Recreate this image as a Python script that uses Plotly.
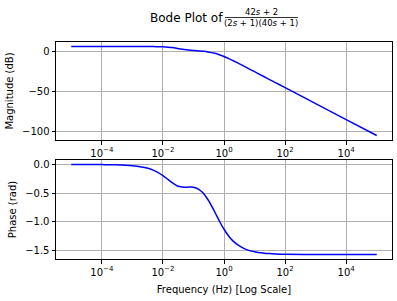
import plotly.graph_objects as go
from plotly.subplots import make_subplots

freq = [1e-5, 1e-4, 3e-4, 1e-3, 2e-3, 3e-3, 5e-3, 7e-3, 1e-2, 1.5e-2, 2e-2, 3e-2, 5e-2, 7e-2,
        0.1, 0.15, 0.2, 0.3, 0.5, 0.7, 1, 1.5, 2, 3, 5, 10, 20, 30, 50, 100, 1e3, 1e4, 1e5]
mag_db = [6.021, 6.021, 6.020, 6.015, 6.000, 5.963, 5.862, 5.715, 5.561, 5.092, 4.571, 3.582,
          2.215, 1.470, 0.879, 0.348, -0.049, -0.834, -2.557, -4.275, -6.559, -9.574, -11.879,
          -15.257, -19.619, -25.607, -31.620, -35.14, -39.576, -45.597, -65.597, -85.597, -105.597]
phase_rad = [-0.0002, -0.0021, -0.0063, -0.021, -0.0419, -0.0625, -0.1028, -0.141, -0.1935,
             -0.265, -0.317, -0.374, -0.397, -0.394, -0.397, -0.433, -0.490, -0.615, -0.830,
             -0.983, -1.130, -1.264, -1.337, -1.413, -1.476, -1.523, -1.5469, -1.5549, -1.5613,
             -1.5660, -1.5703, -1.57075, -1.5708]

xtick_vals = [1e-4, 1e-2, 1, 1e2, 1e4]
xtick_text = ["10<sup>\u22124</sup>", "10<sup>\u22122</sup>", "10<sup>0</sup>",
              "10<sup>2</sup>", "10<sup>4</sup>"]
mag_ticks = [0, -50, -100]
phase_ticks = [0.0, -0.5, -1.0, -1.5]

W, H = 397, 301
L, R, T, B = 56, 392, 42, 259
def px(x):
    return (x - L) / (R - L)
def py(y):
    return (B - y) / (B - T)

fig = make_subplots(rows=2, cols=1)
fig.add_trace(go.Scatter(x=freq, y=mag_db, mode="lines", line=dict(color="#0000ff", width=1.5, shape="spline"),
                         showlegend=False), row=1, col=1)
fig.add_trace(go.Scatter(x=freq, y=phase_rad, mode="lines", line=dict(color="#0000ff", width=1.5, shape="spline"),
                         showlegend=False), row=2, col=1)

font = dict(family="DejaVu Sans", size=10, color="black")
axis_common = dict(showline=True, linecolor="black", linewidth=1, mirror=True,
                   ticks="outside", ticklen=3.5, tickcolor="black", tickwidth=0.8,
                   showgrid=True, gridcolor="#b0b0b0", gridwidth=0.8, zeroline=False,
                   tickfont=font)
fig.update_xaxes(type="log", range=[-5.5, 5.5], tickvals=xtick_vals, ticktext=xtick_text, **axis_common)
fig.update_yaxes(**axis_common)
fig.update_layout(
    xaxis=dict(domain=[0, 1]),
    xaxis2=dict(domain=[0, 1],
                title=dict(text="Frequency (Hz) [Log Scale]", font=font, standoff=9)),
    yaxis=dict(domain=[py(140), 1], range=[-111.2, 11.6], tickvals=mag_ticks,
               title=dict(text="Magnitude (dB)", font=font, standoff=6)),
    yaxis2=dict(domain=[0, py(160)], range=[-1.649, 0.0785], tickvals=phase_ticks,
                tickformat=".1f", title=dict(text="Phase (rad)", font=font, standoff=6)),
    width=W, height=H,
    margin=dict(l=L, r=W - R, t=T, b=H - B),
    paper_bgcolor="white", plot_bgcolor="white",
    font=font,
)

# Title with stacked fraction
fig.add_annotation(text="Bode Plot of", x=px(186), y=py(18), xref="paper", yref="paper",
                   showarrow=False, font=dict(family="DejaVu Sans", size=12, color="black"),
                   xanchor="center", yanchor="middle")
fig.add_annotation(text="42<i>s</i> + 2", x=px(261), y=py(12), xref="paper", yref="paper",
                   showarrow=False, font=dict(family="DejaVu Sans", size=8.5, color="black"),
                   xanchor="center", yanchor="middle")
fig.add_annotation(text="(2<i>s</i> + 1)(40<i>s</i> + 1)", x=px(261), y=py(23.5), xref="paper", yref="paper",
                   showarrow=False, font=dict(family="DejaVu Sans", size=8.5, color="black"),
                   xanchor="center", yanchor="middle")
fig.add_shape(type="line", xref="paper", yref="paper", x0=px(225), x1=px(298), y0=py(17.5), y1=py(17.5),
              line=dict(color="black", width=0.8))

fig.write_html("out.html")
